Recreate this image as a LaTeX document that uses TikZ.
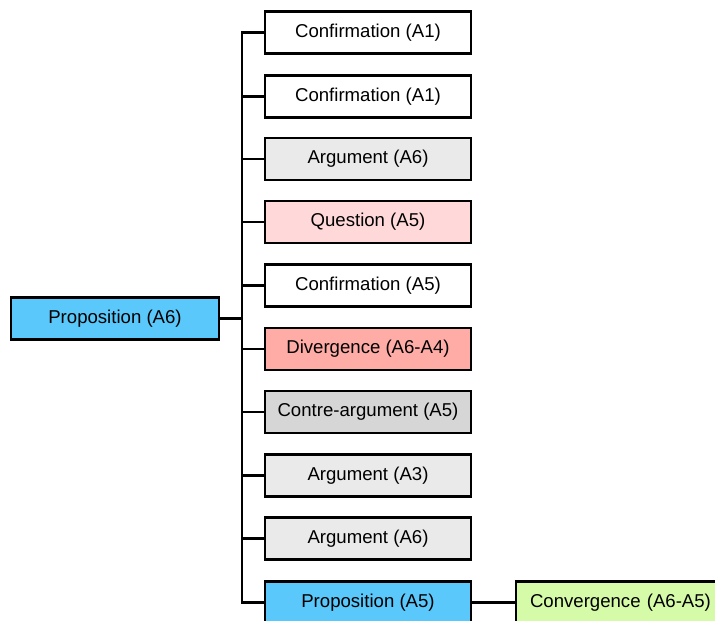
\documentclass[tikz,border=0pt]{standalone}
\usepackage{fontspec}
\setmainfont{Liberation Sans}
\definecolor{pblue}{HTML}{5AC8FA}
\definecolor{agray}{HTML}{EAEAEA}
\definecolor{cgray}{HTML}{D6D6D6}
\definecolor{qpink}{HTML}{FFD9D9}
\definecolor{dred}{HTML}{FFABA6}
\definecolor{cgreen}{HTML}{D6FBA8}
\begin{document}
\begin{tikzpicture}[x=1pt,y=-1pt,
  box/.style={draw=black,line width=2.2pt,minimum width=206pt,minimum height=42pt,inner sep=0pt,font=\fontsize{18.6}{20}\selectfont,anchor=center},
  conn/.style={line width=2.4pt,line cap=rect},
  thickconn/.style={line width=3.4pt}]
\useasboundingbox (0,0) rectangle (715,621);
\clip (0,0) rectangle (715,621);
\node[box,fill=pblue,minimum width=208pt] (p6) at (115,318.5) {Proposition (A6)};
\node[box,fill=white] (b1) at (368,32.5) {Confirmation (A1)};
\node[box,fill=white] (b2) at (368,96.5) {Confirmation (A1)};
\node[box,fill=agray] (b3) at (368,159) {Argument (A6)};
\node[box,fill=qpink] (b4) at (368,222) {Question (A5)};
\node[box,fill=white] (b5) at (368,285.5) {Confirmation (A5)};
\node[box,fill=dred] (b6) at (368,349) {Divergence (A6-A4)};
\node[box,fill=cgray] (b7) at (368,412) {Contre-argument (A5)};
\node[box,fill=agray] (b8) at (368,475.5) {Argument (A3)};
\node[box,fill=agray] (b9) at (368,538.5) {Argument (A6)};
\node[box,fill=pblue] (b10) at (368,602.5) {Proposition (A5)};
\node[box,fill=cgreen,minimum width=206pt,text width=200pt,align=left] (cv) at (619,602.5) {\hspace*{11pt}Convergence (A6-A5)};
\coordinate (tr) at (242,0);
\draw[conn] (b1.west) -- (b1.west -| tr) -- (b10.west -| tr) -- (b10.west);
\foreach \i in {2,...,9} {\draw[conn] (b\i.west) -- (b\i.west -| tr);}
\draw[thickconn] (p6.east) -- (p6.east -| tr);
\draw[conn] (b10.east) -- (cv.west);
\end{tikzpicture}
\end{document}
